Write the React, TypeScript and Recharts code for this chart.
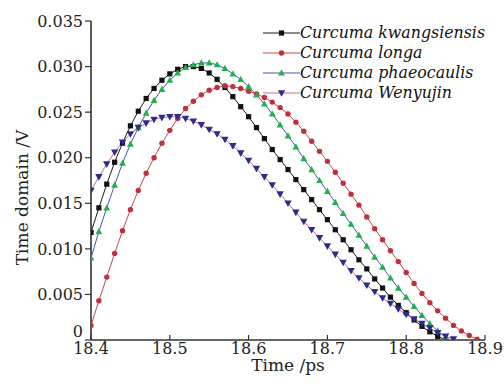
import React from 'react';
import { LineChart, Line, XAxis, YAxis, Legend } from 'recharts';

const times = [
  18.40, 18.41, 18.42, 18.43, 18.44, 18.45, 18.46, 18.47, 18.48, 18.49,
  18.50, 18.51, 18.52, 18.53, 18.54, 18.55, 18.56, 18.57, 18.58, 18.59,
  18.60, 18.61, 18.62, 18.63, 18.64, 18.65, 18.66, 18.67, 18.68, 18.69,
  18.70, 18.71, 18.72, 18.73, 18.74, 18.75, 18.76, 18.77, 18.78, 18.79,
  18.80, 18.81, 18.82, 18.83, 18.84, 18.85, 18.86, 18.87, 18.88, 18.89,
  18.90,
];

const kwangsiensisValues = [
  0.0118, 0.0145, 0.0171, 0.0195, 0.0216, 0.0235, 0.0251, 0.0265, 0.0276, 0.0285,
  0.0292, 0.0297, 0.0300, 0.0300, 0.0298, 0.0293, 0.0286, 0.0277, 0.0267, 0.0256,
  0.0245, 0.0233, 0.0221, 0.0209, 0.0198, 0.0187, 0.0176, 0.0165, 0.0154, 0.0143,
  0.0132, 0.0121, 0.0110, 0.0099, 0.0088, 0.0078, 0.0067, 0.0057, 0.0047, 0.0038,
  0.0030, 0.0022, 0.0015, 0.0009, 0.0004, 0.0000,
];

const longaValues = [
  0.0016, 0.0043, 0.0069, 0.0095, 0.0120, 0.0143, 0.0164, 0.0183, 0.0200, 0.0216,
  0.0230, 0.0243, 0.0254, 0.0262, 0.0269, 0.0274, 0.0277, 0.0279, 0.0278, 0.0276,
  0.0273, 0.0270, 0.0266, 0.0261, 0.0255, 0.0248, 0.0239, 0.0229, 0.0218, 0.0207,
  0.0196, 0.0184, 0.0172, 0.0160, 0.0148, 0.0135, 0.0122, 0.0110, 0.0098, 0.0086,
  0.0074, 0.0062, 0.0051, 0.0041, 0.0032, 0.0024, 0.0016, 0.0010, 0.0005, 0.0001,
];

const phaeocaulisValues = [
  0.0090, 0.0119, 0.0145, 0.0170, 0.0194, 0.0215, 0.0233, 0.0249, 0.0263, 0.0275,
  0.0285, 0.0293, 0.0299, 0.0302, 0.0304, 0.0304, 0.0302, 0.0298, 0.0292, 0.0286,
  0.0278, 0.0269, 0.0259, 0.0248, 0.0236, 0.0224, 0.0212, 0.0199, 0.0187, 0.0175,
  0.0163, 0.0151, 0.0139, 0.0127, 0.0115, 0.0103, 0.0091, 0.0080, 0.0068, 0.0057,
  0.0047, 0.0037, 0.0027, 0.0018, 0.0010, 0.0003,
];

const wenyujinValues = [
  0.0164, 0.0179, 0.0193, 0.0206, 0.0217, 0.0226, 0.0233, 0.0238, 0.0242, 0.0244,
  0.0245, 0.0245, 0.0243, 0.0240, 0.0236, 0.0231, 0.0226, 0.0220, 0.0213, 0.0205,
  0.0197, 0.0188, 0.0179, 0.0170, 0.0160, 0.0150, 0.0140, 0.0130, 0.0121, 0.0112,
  0.0103, 0.0094, 0.0085, 0.0076, 0.0068, 0.0060, 0.0053, 0.0046, 0.0040, 0.0034,
  0.0028, 0.0023, 0.0018, 0.0013, 0.0008, 0.0004, 0.0001,
];

const seriesNames = [
  'Curcuma kwangsiensis',
  'Curcuma longa',
  'Curcuma phaeocaulis',
  'Curcuma Wenyujin',
];

const xTickValues = [18.4, 18.5, 18.6, 18.7, 18.8, 18.9];
const xTickLabels = ['18.4', '18.5', '18.6', '18.7', '18.8', '18.9'];
const yTickValues = [0, 0.005, 0.01, 0.015, 0.02, 0.025, 0.03, 0.035];
const yTickLabels = ['0', '0.005', '0.010', '0.015', '0.020', '0.025', '0.030', '0.035'];

const xTitle = 'Time /ps';
const yTitle = 'Time domain /V';

const FONT = "'DejaVu Serif', 'Liberation Serif', serif";
const AXIS = '#333333';

const toPoints = (vals: number[]) => vals.map((v, i) => ({ t: times[i], v }));

type MarkerKind = 'square' | 'circle' | 'up' | 'down';

function markerShape(kind: MarkerKind, cx: number, cy: number, fill: string, key?: any) {
  if (kind === 'square') {
    return <rect key={key} x={cx - 2.6} y={cy - 2.6} width={5.2} height={5.2} fill={fill} />;
  }
  if (kind === 'circle') {
    return <circle key={key} cx={cx} cy={cy} r={2.7} fill={fill} />;
  }
  if (kind === 'up') {
    return (
      <polygon
        key={key}
        points={`${cx},${cy - 3.6} ${cx - 3.4},${cy + 2.6} ${cx + 3.4},${cy + 2.6}`}
        fill={fill}
      />
    );
  }
  return (
    <polygon
      key={key}
      points={`${cx - 3.7},${cy - 2.8} ${cx + 3.7},${cy - 2.8} ${cx},${cy + 3.8}`}
      fill={fill}
    />
  );
}

const seriesStyles: { line: string; marker: string; kind: MarkerKind }[] = [
  { line: '#1a1a1a', marker: '#111111', kind: 'square' },
  { line: '#c8474a', marker: '#c0303a', kind: 'circle' },
  { line: '#3b5da8', marker: '#22b04c', kind: 'up' },
  { line: '#d0649a', marker: '#2c2c8c', kind: 'down' },
];

const seriesValues = [kwangsiensisValues, longaValues, phaeocaulisValues, wenyujinValues];

const makeDot = (idx: number) => (props: any) => {
  const { cx, cy, index } = props;
  if (cx == null || cy == null) return <g key={`e${index}`} />;
  const st = seriesStyles[idx];
  return markerShape(st.kind, cx, cy, st.marker, `d${idx}-${index}`);
};

const YTick = (props: any) => {
  const { x, y, payload } = props;
  const i = yTickValues.findIndex((t) => Math.abs(t - payload.value) < 1e-9);
  const label = i >= 0 ? yTickLabels[i] : String(payload.value);
  const shift = payload.value === 0 ? -9 : 0;
  return (
    <text x={x} y={y + shift} dy="0.355em" textAnchor="end" fill="#222" fontSize={16} fontFamily={FONT}>
      {label}
    </text>
  );
};

const xFmt = (v: number) => {
  const i = xTickValues.findIndex((t) => Math.abs(t - v) < 1e-9);
  return i >= 0 ? xTickLabels[i] : String(v);
};

const LegendBox = () => (
  <svg width={228} height={84} style={{ display: 'block', overflow: 'visible' }}>
    {seriesNames.map((name, i) => {
      const y = 11 + i * 20;
      const st = seriesStyles[i];
      return (
        <g key={name}>
          <line x1={1} y1={y} x2={38} y2={y} stroke={st.line} strokeWidth={1} />
          {markerShape(st.kind, 19.5, y, st.marker)}
          <text x={38} y={y + 5} fontSize={15.8} fontStyle="italic" fontFamily={FONT} fill="#111">
            {name}
          </text>
        </g>
      );
    })}
  </svg>
);

export default function App() {
  return (
    <div style={{ position: 'absolute', left: 0, top: 0, width: 504, height: 384, background: '#fff' }}>
      <LineChart width={504} height={384} margin={{ top: 21, right: 19, bottom: 0, left: 0 }}>
        <XAxis
          dataKey="t"
          type="number"
          domain={[18.4, 18.9]}
          ticks={xTickValues}
          tickFormatter={xFmt}
          allowDataOverflow
          height={44}
          tickSize={-5}
          tickMargin={8}
          axisLine={{ stroke: AXIS, strokeWidth: 1.6 }}
          tickLine={{ stroke: AXIS, strokeWidth: 1.2 }}
          tick={{ fill: '#222', fontSize: 16, fontFamily: FONT }}
          label={{
            content: (p: any) => {
              const vb = p.viewBox || { x: 91, y: 340, width: 394, height: 44 };
              return (
                <text
                  x={vb.x + vb.width / 2}
                  y={vb.y + vb.height - 13}
                  textAnchor="middle"
                  fontSize={17}
                  fontFamily={FONT}
                  fill="#222"
                >
                  {xTitle}
                </text>
              );
            },
          }}
        />
        <XAxis
          xAxisId="top"
          orientation="top"
          dataKey="t"
          type="number"
          domain={[18.4, 18.9]}
          height={0}
          tick={false}
          tickLine={false}
          axisLine={{ stroke: AXIS, strokeWidth: 1.6 }}
        />
        <YAxis
          type="number"
          domain={[0, 0.035]}
          ticks={yTickValues}
          allowDataOverflow
          width={91}
          tickSize={6}
          tickMargin={2}
          axisLine={{ stroke: AXIS, strokeWidth: 1.6 }}
          tickLine={{ stroke: AXIS, strokeWidth: 1.2 }}
          tick={<YTick />}
          label={{
            content: (p: any) => {
              const vb = p.viewBox || { x: 0, y: 21, width: 91, height: 319 };
              const cx = vb.x + 28;
              const cy = vb.y + vb.height / 2 + 17;
              return (
                <text
                  x={cx}
                  y={cy}
                  transform={`rotate(-90 ${cx} ${cy})`}
                  textAnchor="middle"
                  fontSize={17}
                  fontFamily={FONT}
                  fill="#222"
                >
                  {yTitle}
                </text>
              );
            },
          }}
        />
        <YAxis
          yAxisId="right"
          orientation="right"
          type="number"
          domain={[0, 0.035]}
          width={0}
          tick={false}
          tickLine={false}
          axisLine={{ stroke: AXIS, strokeWidth: 1.6 }}
        />
        {seriesValues.map((vals, i) => (
          <Line
            key={seriesNames[i]}
            name={seriesNames[i]}
            data={toPoints(vals)}
            dataKey="v"
            type="linear"
            stroke={seriesStyles[i].line}
            strokeWidth={1}
            dot={makeDot(i)}
            activeDot={false}
            isAnimationActive={false}
          />
        ))}
        <Legend
          layout="vertical"
          align="center"
          verticalAlign="middle"
          content={() => <LegendBox />}
          wrapperStyle={{ left: 262, top: 22, width: 228, height: 84 }}
        />
      </LineChart>
    </div>
  );
}
